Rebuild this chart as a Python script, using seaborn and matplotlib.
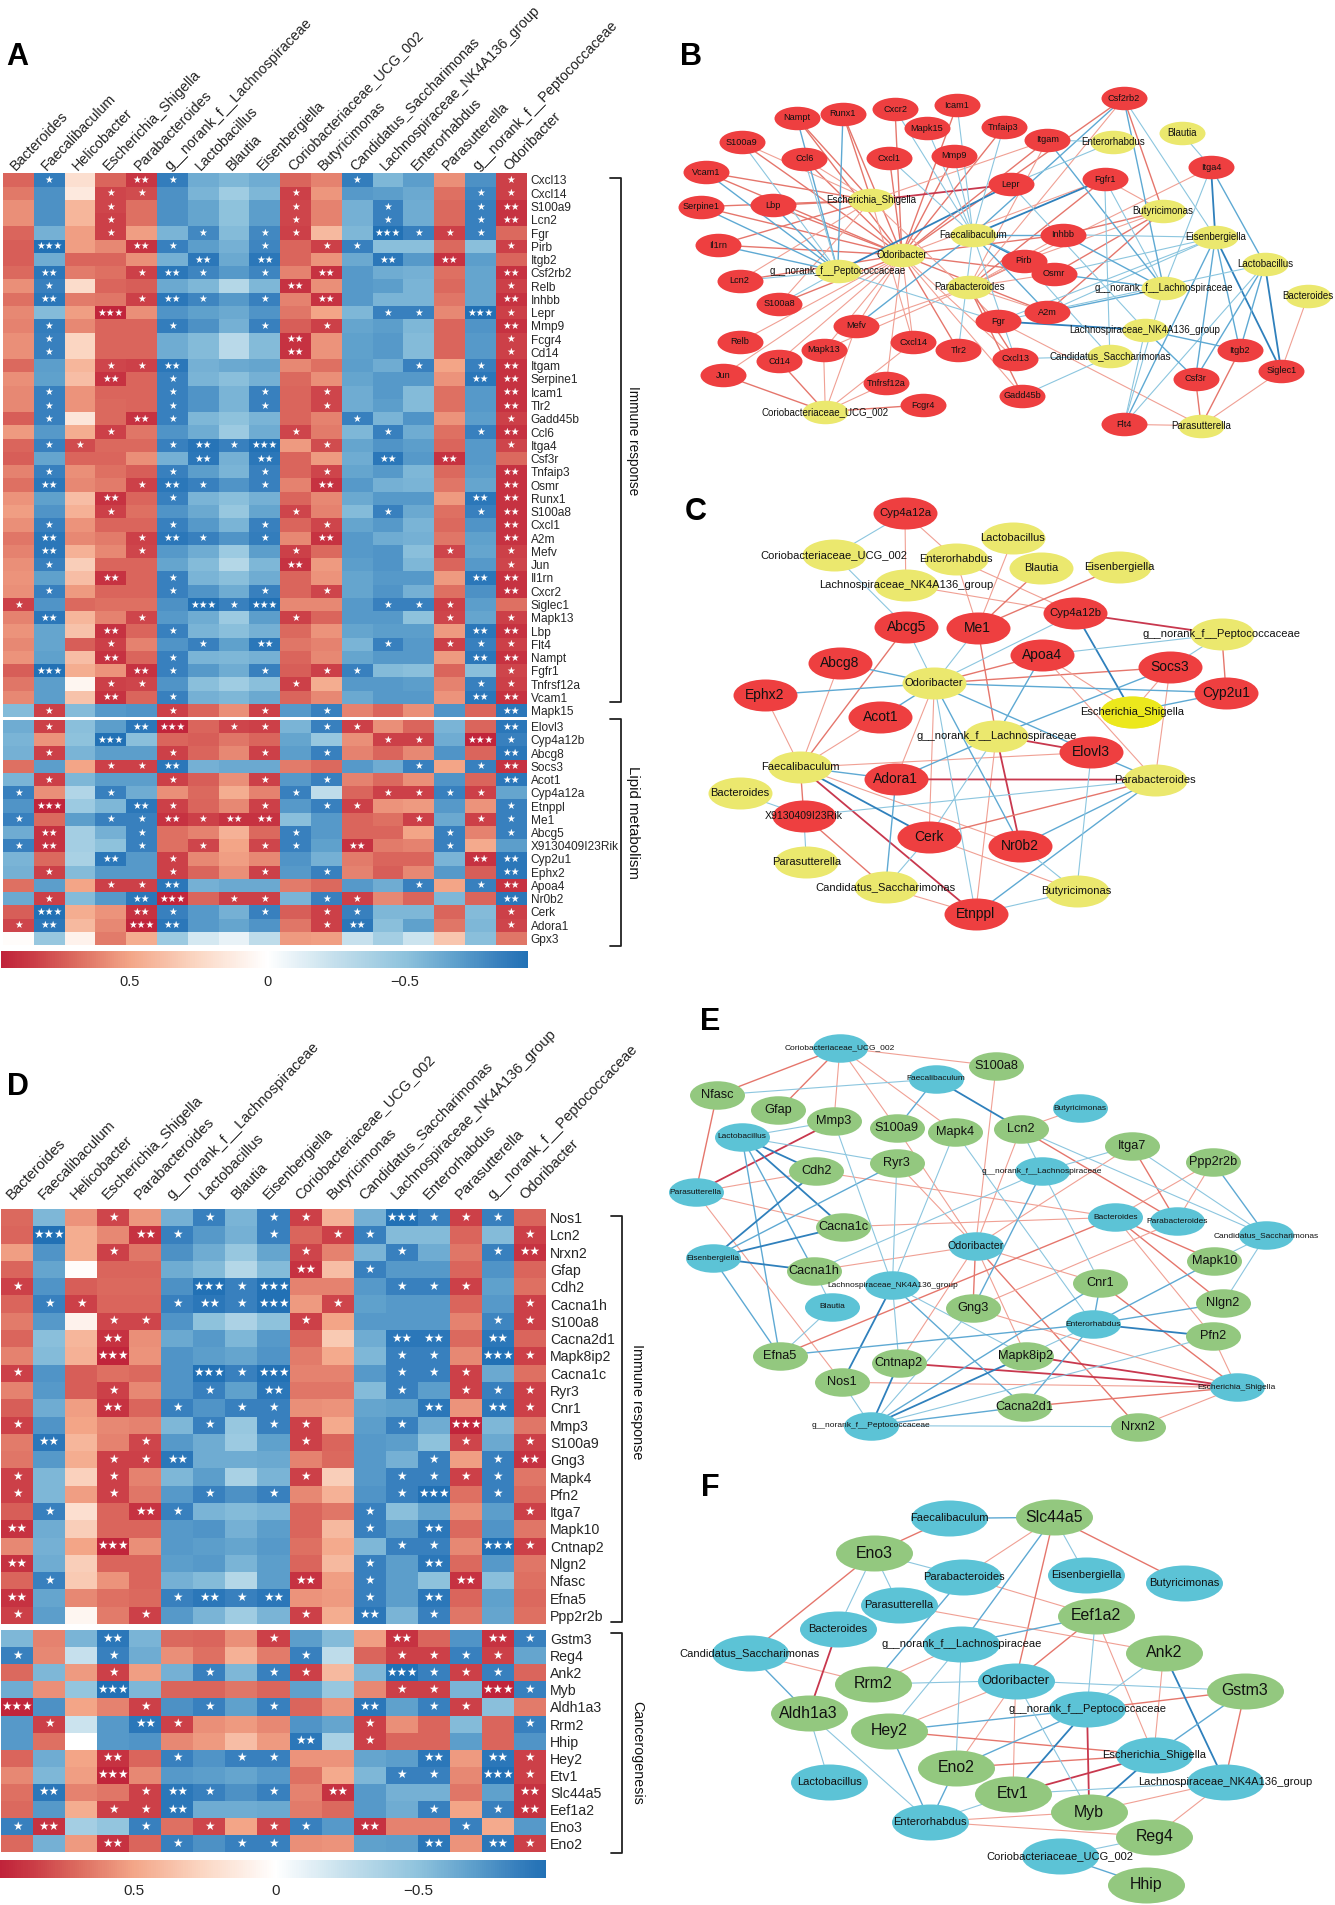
import matplotlib
matplotlib.use("Agg")
import numpy as np
import pandas as pd
import matplotlib.pyplot as plt
import seaborn as sns
from matplotlib.collections import LineCollection
from matplotlib.colors import LinearSegmentedColormap
from matplotlib.path import Path
from matplotlib.transforms import Affine2D, ScaledTranslation

W, H = 1335, 1905

TAXA = ["Bacteroides", "Faecalibaculum", "Helicobacter", "Escherichia_Shigella", "Parabacteroides",
        "g__norank_f__Lachnospiraceae", "Lactobacillus", "Blautia", "Eisenbergiella",
        "Coriobacteriaceae_UCG_002", "Butyricimonas", "Candidatus_Saccharimonas",
        "Lachnospiraceae_NK4A136_group", "Enterorhabdus", "Parasutterella",
        "g__norank_f__Peptococcaceae", "Odoribacter"]
CODES = ["Bac", "Fae", "Hel", "Esc", "Par", "gLa", "Lac", "Bla", "Eis", "Cor", "But", "Can", "LNK", "Ent", "Psu", "gPe", "Odo"]

# panel A, correlation x 100
A1_GENES = ["Cxcl13", "Cxcl14", "S100a9", "Lcn2", "Fgr", "Pirb", "Itgb2", "Csf2rb2", "Relb", "Inhbb", "Lepr", "Mmp9",
            "Fcgr4", "Cd14", "Itgam", "Serpine1", "Icam1", "Tlr2", "Gadd45b", "Ccl6", "Itga4", "Csf3r", "Tnfaip3", "Osmr",
            "Runx1", "S100a8", "Cxcl1", "A2m", "Mefv", "Jun", "Il1rn", "Cxcr2", "Siglec1", "Mapk13", "Lbp", "Flt4",
            "Nampt", "Fgfr1", "Tnfrsf12a", "Vcam1", "Mapk15"]
A1_VALUES = [
    [72,-86,20,72,88,-86,-62,-56,-62,72,62,-86,-56,-70,58,-76,84],
    [65,-76,14,82,80,-76,-58,-42,-56,84,55,-72,-70,-64,68,-82,84],
    [58,-76,42,82,68,-76,-66,-50,-70,82,62,-60,-84,-62,70,-84,90],
    [58,-76,42,84,68,-76,-66,-50,-70,82,62,-60,-84,-62,70,-84,90],
    [72,-60,52,84,52,-58,-80,-54,-80,84,40,-56,-95,-84,84,-84,70],
    [74,-95,52,60,90,-84,-70,-60,-82,72,84,-84,-52,-52,70,-52,84],
    [74,-62,72,72,58,-60,-90,-64,-90,72,56,-64,-90,-72,90,-70,72],
    [70,-90,64,68,84,-90,-82,-72,-82,62,90,-72,-62,-60,68,-66,90],
    [58,-84,22,72,74,-64,-56,-32,-56,90,58,-72,-70,-58,70,-66,84],
    [68,-90,64,66,84,-90,-82,-72,-84,62,90,-72,-58,-58,66,-66,90],
    [60,-54,52,96,58,-74,-68,-64,-74,66,50,-56,-84,-84,60,-96,84],
    [62,-86,60,72,72,-86,-76,-60,-84,74,84,-66,-70,-56,72,-74,90],
    [58,-84,26,72,72,-62,-54,-30,-54,90,56,-68,-72,-54,72,-72,84],
    [58,-84,26,72,72,-62,-54,-30,-54,90,56,-68,-72,-54,72,-72,84],
    [70,-70,42,82,84,-90,-60,-64,-66,60,68,-70,-62,-84,50,-84,90],
    [58,-68,38,90,72,-84,-58,-52,-60,70,58,-66,-72,-72,56,-90,90],
    [60,-84,56,72,72,-84,-74,-58,-84,72,82,-62,-72,-54,68,-72,90],
    [60,-84,56,70,72,-84,-74,-58,-84,72,82,-62,-70,-54,68,-72,90],
    [74,-84,16,70,90,-84,-56,-50,-58,72,62,-84,-58,-74,56,-70,84],
    [54,-72,46,84,66,-74,-62,-44,-62,82,64,-56,-84,-62,68,-84,90],
    [72,-84,80,70,70,-84,-92,-84,-96,54,80,-66,-74,-70,72,-72,82],
    [74,-66,72,72,58,-60,-90,-60,-90,72,54,-62,-90,-72,90,-72,70],
    [62,-84,58,68,74,-84,-70,-58,-84,72,82,-66,-72,-56,70,-70,90],
    [68,-90,60,64,84,-90,-84,-74,-84,62,90,-72,-60,-58,66,-66,90],
    [56,-68,38,90,72,-84,-58,-52,-60,72,60,-64,-72,-72,54,-90,90],
    [52,-74,44,84,68,-74,-64,-46,-66,82,62,-54,-84,-64,68,-84,90],
    [58,-84,56,72,72,-84,-72,-58,-84,72,82,-66,-72,-58,70,-74,90],
    [66,-90,60,64,84,-90,-84,-74,-86,60,90,-72,-62,-60,66,-68,90],
    [62,-90,44,60,82,-72,-62,-44,-70,84,70,-72,-74,-52,82,-66,84],
    [58,-84,30,72,72,-66,-54,-32,-56,90,54,-70,-74,-56,72,-72,82],
    [56,-68,38,90,72,-84,-58,-52,-62,72,56,-66,-72,-72,54,-90,90],
    [58,-84,54,72,72,-84,-74,-62,-84,72,82,-66,-74,-60,68,-76,90],
    [84,-74,70,68,68,-76,-96,-84,-96,60,60,-72,-84,-84,84,-70,68],
    [62,-90,42,62,82,-72,-62,-44,-70,84,72,-72,-72,-50,82,-66,84],
    [56,-66,36,90,72,-84,-58,-52,-60,70,56,-66,-70,-70,54,-90,90],
    [60,-66,74,84,62,-74,-84,-68,-90,66,62,-58,-84,-72,84,-84,84],
    [56,-68,38,90,72,-84,-58,-56,-60,72,60,-66,-72,-72,54,-90,90],
    [74,-96,46,56,90,-84,-72,-62,-84,74,84,-84,-54,-52,72,-52,82],
    [66,-70,6,84,82,-74,-52,-42,-52,84,46,-72,-72,-70,62,-84,84],
    [60,-70,36,90,72,-84,-60,-56,-64,72,60,-64,-72,-72,56,-90,90],
    [-54,84,-54,-72,-74,84,72,58,84,-72,-84,62,72,58,-74,72,-90],
]
A1_STARS = ["01002100000100001", "00011000010000011", "00010000010010012", "00010000010010012", "00010010110031110",
            "03002100101100001", "00000020200020200", "02001210102000002", "01000000020000001", "02001210102000002",
            "00030000000011031", "01000100101000002", "01000000020000001", "01000000020000001", "00011200000001012",
            "00020100000000022", "01000100101000002", "01000100101000002", "01002100000100001", "00010000010010012",
            "01100121301000001", "00000020200020200", "01000100101000002", "02001210102000002", "00020100000000022",
            "00010000010010012", "01000100101000002", "02001210102000002", "02001000010000101", "01000000020000001",
            "00020100000000022", "01000100101000002", "10000031300011100", "02001000010000101", "00020100000000022",
            "00010010200010111", "00020100000000022", "03002100101100001", "00011000010000011", "00020100000000022",
            "01000100101000002"]

A2_GENES = ["Elovl3", "Cyp4a12b", "Abcg8", "Socs3", "Acot1", "Cyp4a12a", "Etnppl", "Me1", "Abcg5", "X9130409I23Rik",
            "Cyp2u1", "Ephx2", "Apoa4", "Nr0b2", "Cerk", "Adora1", "Gpx3"]
A2_VALUES = [
    [-62,84,-52,-70,-90,96,72,82,84,-58,-84,84,58,72,-58,72,-90],
    [-58,56,-50,-96,-52,72,74,66,72,-66,-46,58,84,84,-62,96,-84],
    [-60,84,-58,-70,-70,84,72,60,84,-70,-84,62,72,60,-74,72,-90],
    [68,-70,50,84,84,-90,-60,-64,-64,64,70,-72,-62,-84,50,-84,90],
    [-58,84,-56,-70,-70,84,74,58,84,-72,-84,62,70,58,-74,72,-90],
    [-84,58,-34,-84,-62,58,70,46,62,-84,-28,72,84,84,-84,84,-66],
    [-74,96,-44,-56,-90,84,72,60,84,-72,-84,84,56,54,-72,56,-84],
    [-84,70,-70,-84,-84,90,84,90,90,-52,-72,72,68,84,-64,84,-84],
    [-62,90,-40,-60,-84,68,62,44,70,-84,-72,72,72,50,-84,62,-84],
    [-84,90,-40,-50,-84,68,82,50,82,-84,-68,90,64,62,-84,48,-70],
    [-58,70,-38,-90,-72,84,60,52,60,-74,-60,64,72,72,-58,90,-90],
    [-60,84,-54,-72,-72,84,72,58,84,-72,-84,62,74,60,-72,74,-90],
    [68,-70,50,84,84,-90,-60,-64,-64,64,70,-72,-62,-84,50,-84,90],
    [-64,84,-54,-72,-90,96,72,84,84,-58,-84,84,60,72,-56,72,-90],
    [74,-96,46,56,90,-84,-72,-60,-84,74,84,-84,-56,-56,72,-54,84],
    [82,-90,40,60,96,-90,-72,-66,-74,66,84,-90,-52,-68,66,-56,82],
    [2,-46,8,64,46,-44,-18,-10,-28,54,52,-24,-40,-22,34,-52,66],
]
A2_STARS = ["01002301101100002", "00030000000011031", "01000100101000002", "00011200000001012", "01000100101000002",
            "10010000010011110", "03002100101100001", "10011212200001011", "02001000010000101", "12001010110200100",
            "00020100000000022", "01000100101000002", "00011200000001012", "01002301101100002", "03002100101100001",
            "12003200001200001", "00000000000000000"]

# panel D
D1_GENES = ["Nos1", "Lcn2", "Nrxn2", "Gfap", "Cdh2", "Cacna1h", "S100a8", "Cacna2d1", "Mapk8ip2", "Cacna1c", "Ryr3", "Cnr1",
            "Mmp3", "S100a9", "Gng3", "Mapk4", "Pfn2", "Itga7", "Mapk10", "Cntnap2", "Nlgn2", "Nfasc", "Efna5", "Ppp2r2b"]
D1_VALUES = [
    [70,-56,56,82,55,-60,-84,-58,-84,84,44,-60,-96,-84,84,-84,72],
    [72,-96,46,60,90,-84,-72,-60,-84,72,84,-84,-54,-54,72,-54,84],
    [52,-74,46,84,66,-76,-62,-46,-66,82,62,-58,-84,-62,66,-84,90],
    [72,-66,2,72,72,-62,-54,-32,-54,90,38,-84,-72,-72,72,-74,72],
    [84,-74,74,70,70,-76,-96,-84,-96,62,62,-72,-84,-84,84,-68,68],
    [72,-84,84,72,72,-84,-90,-84,-96,54,82,-68,-72,-72,72,-72,84],
    [64,-72,8,82,82,-74,-50,-36,-50,84,50,-72,-72,-72,62,-82,84],
    [72,-52,42,90,58,-64,-72,-56,-72,72,32,-62,-90,-90,70,-90,72],
    [62,-54,44,96,56,-74,-70,-66,-74,64,48,-56,-84,-84,60,-96,84],
    [84,-74,74,68,70,-74,-96,-84,-96,62,62,-72,-84,-84,84,-64,68],
    [62,-72,74,84,60,-74,-84,-68,-90,66,66,-54,-84,-70,84,-84,84],
    [74,-62,52,90,72,-84,-74,-84,-84,58,56,-66,-68,-90,56,-90,84],
    [84,-74,50,60,62,-56,-84,-46,-84,84,48,-70,-84,-62,96,-56,66],
    [64,-90,42,62,82,-72,-62,-44,-68,84,72,-72,-70,-50,82,-64,84],
    [66,-72,46,84,84,-90,-62,-62,-64,62,70,-72,-60,-84,52,-84,90],
    [84,-56,28,84,62,-56,-70,-38,-58,84,30,-72,-84,-84,84,-84,66],
    [84,-56,52,84,66,-72,-84,-76,-84,60,44,-74,-84,-96,68,-84,70],
    [74,-84,20,72,90,-84,-58,-54,-58,72,66,-84,-52,-66,58,-70,84],
    [90,-62,30,72,72,-72,-74,-60,-70,72,40,-84,-70,-90,70,-74,66],
    [60,-60,50,96,58,-72,-70,-66,-72,68,48,-56,-84,-84,60,-96,84],
    [90,-62,30,72,72,-70,-72,-58,-70,72,40,-84,-70,-90,70,-72,66],
    [72,-84,32,56,72,-60,-54,-32,-70,90,52,-84,-70,-50,90,-52,68],
    [90,-66,60,68,70,-84,-90,-84,-90,56,54,-84,-70,-90,72,-68,70],
    [84,-70,6,64,84,-72,-58,-42,-58,84,46,-90,-58,-84,66,-66,68],
]
D1_STARS = ["00010010110031110", "03002100101100001", "00010000010010012", "00000000020100000", "10000031300011100",
            "01100121301000001", "00011000010000011", "00020000000022020", "00030000000011031", "10000031300011100",
            "00010010200010111", "00020101100002021", "10000010110010300", "02001000010000101", "00011200000001012",
            "10010000010011110", "10010010100013010", "01002100000100001", "20000000000102000", "00030000000011031",
            "20000000000102000", "01000000020100200", "20000121200102000", "10001000010201000"]

D2_GENES = ["Gstm3", "Reg4", "Ank2", "Myb", "Aldh1a3", "Rrm2", "Hhip", "Hey2", "Etv1", "Slc44a5", "Eef1a2", "Eno3", "Eno2"]
D2_VALUES = [
    [-56,62,-58,-90,-58,70,72,58,84,-70,-54,52,90,72,-74,90,-84],
    [-84,60,-24,-84,-62,58,68,44,64,-84,-28,72,84,84,-84,84,-66],
    [70,-56,54,84,52,-60,-84,-56,-84,84,40,-56,-96,-84,84,-84,72],
    [-62,58,-48,-96,-56,72,72,66,72,-68,-46,60,84,84,-58,96,-84],
    [96,-76,50,62,84,-76,-84,-68,-84,72,56,-90,-68,-84,84,-52,64],
    [-72,84,-22,-72,-90,84,58,54,60,-74,-66,84,58,72,-54,72,-84],
    [-72,68,0,-72,-74,60,54,38,54,-90,-38,84,72,72,-70,72,-74],
    [72,-62,50,90,72,-84,-74,-84,-84,56,56,-66,-70,-90,54,-90,84],
    [60,-56,52,96,60,-72,-70,-66,-72,68,48,-56,-84,-84,60,-96,84],
    [68,-90,62,66,84,-90,-84,-76,-84,62,90,-72,-60,-60,66,-68,90],
    [70,-72,46,84,84,-90,-62,-62,-64,64,70,-72,-62,-84,50,-84,90],
    [-84,90,-40,-48,-84,68,82,50,82,-84,-72,90,62,62,-84,48,-72],
    [70,-60,54,90,72,-84,-76,-84,-84,58,56,-68,-70,-90,56,-90,84],
]
D2_STARS = ["00020000100020021", "10010000010011110", "00010010110031110", "00030000000011031", "30001010100201100",
            "01002100000100001", "00000000020100000", "00020101100002021", "00030000000011031", "02001210102000002",
            "00011200000001012", "12001010110200100", "00020101100002021"]

CBAR_TICKS = [0.5, 0, -0.5]
CBAR_LABELS = ["0.5", "0", "\u22120.5"]

# networks, node places
B_GENES = ["Csf2rb2", "Cxcr2", "Icam1", "Nampt", "Runx1", "Mapk15", "Tnfaip3", "S100a9", "Itgam", "Ccl6", "Cxcl1", "Mmp9", "Vcam1",
           "Itga4", "Fgfr1", "Lepr", "Lbp", "Serpine1", "Inhbb", "Il1rn", "Pirb", "Osmr", "Lcn2", "S100a8", "A2m", "Fgr", "Mefv",
           "Relb", "Cxcl14", "Tlr2", "Mapk13", "Itgb2", "Cd14", "Cxcl13", "Siglec1", "Jun", "Csf3r", "Tnfrsf12a", "Gadd45b",
           "Fcgr4", "Flt4"]
B_GENE_X = [1077, 546, 690, 318, 425, 620, 798, 190, 900, 335, 533, 683, 107, 1280, 1033, 815, 262, 95, 936, 135, 845, 915, 185,
            277, 899, 786, 456, 186, 588, 693, 380, 1347, 277, 825, 1443, 147, 1244, 526, 842, 610, 1078]
B_GENE_Y = [205, 238, 225, 264, 252, 295, 292, 337, 330, 386, 385, 378, 427, 412, 447, 463, 526, 530, 614, 645, 692, 731, 752,
            822, 847, 874, 887, 936, 937, 961, 960, 961, 993, 986, 1022, 1035, 1046, 1060, 1097, 1125, 1183]
B_TAXA = ["Bla", "Ent", "Esc", "But", "Fae", "Eis", "Odo", "Lac", "gPe", "Par", "gLa", "Bac", "LNK", "Can", "Cor", "Psu"]
B_TAXA_X = [1212, 1052, 491, 1168, 727, 1290, 562, 1405, 413, 718, 1170, 1505, 1127, 1045, 384, 1257]
B_TAXA_Y = [310, 336, 511, 543, 614, 622, 675, 703, 724, 771, 775, 798, 900, 979, 1145, 1187]
B_POS = {
    "Odo": "S100a9 Lcn2 Csf2rb2 Inhbb Mmp9 Itgam Serpine1 Icam1 Tlr2 Ccl6 Tnfaip3 Osmr Runx1 S100a8 Cxcl1 A2m Il1rn Cxcr2 Lbp Nampt Vcam1 Cxcl13 Cxcl14 Relb Mefv Jun Cd14 Tnfrsf12a Mapk13 Fgfr1 Gadd45b",
    "Esc": "Lepr Lbp Nampt Runx1 Serpine1 Il1rn Vcam1 Ccl6 S100a9 S100a8 Lcn2 Fgr Itgam Cxcl14",
    "Par": "Pirb Gadd45b Fgfr1 Cxcl13 Csf2rb2 Inhbb A2m Osmr Itgam Mefv Mapk13 Itga4",
    "But": "Fgfr1 Csf2rb2 Inhbb Osmr A2m Pirb",
    "Cor": "Jun Cd14 Mapk13 Mefv Tnfrsf12a Cxcl14 Fcgr4",
    "Psu": "Fgr Flt4 Csf3r Itgb2 Siglec1",
    "Bac": "Siglec1",
}
B_NEG = {
    "gPe": "Lepr Serpine1 Il1rn Lbp Nampt Runx1 Vcam1 Ccl6 S100a8 S100a9 Lcn2 Fgr",
    "Fae": "Pirb Fgfr1 Inhbb Csf2rb2 A2m Osmr Mefv Cxcl13 Mmp9 Icam1 Tlr2 Cxcr2 Tnfaip3 Cxcl1 Mapk15",
    "Eis": "Inhbb Osmr A2m Csf2rb2 Itgb2 Fgr Flt4 Csf3r Itga4 Siglec1",
    "gLa": "Inhbb Csf2rb2 Osmr A2m Itgam Itga4 Fgfr1 Flt4",
    "Lac": "Itga4 Csf3r Itgb2 Siglec1 Flt4 Fgr",
    "Ent": "Lepr Itgam",
    "Bla": "Itga4",
    "LNK": "Fgr Itgb2 Csf3r Lepr Flt4",
    "Can": "Cxcl13 Pirb Gadd45b Fgfr1",
}

C_GENES = ["Cyp4a12a", "Abcg5", "Me1", "Cyp4a12b", "Abcg8", "Apoa4", "Socs3", "Ephx2", "Cyp2u1", "Acot1", "Elovl3", "Adora1",
           "X9130409I23Rik", "Cerk", "Nr0b2", "Etnppl"]
C_GENE_X = [569, 572, 738, 965, 417, 888, 1185, 243, 1315, 512, 1002, 548, 334, 625, 837, 733]
C_GENE_Y = [100, 441, 443, 400, 549, 525, 562, 645, 638, 712, 817, 898, 1007, 1070, 1097, 1302]
C_TAXA = ["Cor", "Lac", "Ent", "Bla", "Eis", "LNK", "gPe", "Odo", "Esc", "gLa", "Fae", "Par", "Bac", "Psu", "Can", "But"]
C_TAXA_X = [405, 820, 687, 886, 1066, 571, 1305, 637, 1096, 781, 326, 1150, 186, 340, 524, 968]
C_TAXA_Y = [225, 175, 237, 264, 260, 315, 463, 610, 695, 767, 862, 899, 940, 1145, 1222, 1233]
C_POS = {
    "Ent": "Cyp4a12a Me1 Cyp4a12b",
    "LNK": "Cyp4a12a Cyp4a12b",
    "Fae": "Abcg5 Abcg8 Ephx2 Acot1 Elovl3 X9130409I23Rik Nr0b2 Etnppl",
    "Lac": "Me1",
    "Bla": "Me1",
    "Eis": "Me1",
    "gLa": "Me1 Elovl3 Nr0b2 Etnppl",
    "gPe": "Cyp4a12b Cyp2u1",
    "Odo": "Apoa4 Socs3 Adora1 Cerk",
    "Esc": "Apoa4 Socs3",
    "Par": "Apoa4 Socs3 Adora1 Cerk",
    "Can": "X9130409I23Rik Etnppl",
    "But": "Cerk",
}
C_NEG = {
    "Cor": "Cyp4a12a Abcg5",
    "Odo": "Abcg5 Me1 Cyp4a12b Abcg8 Ephx2 Cyp2u1 Acot1 Elovl3 Nr0b2 Etnppl",
    "Esc": "Cyp4a12b Cyp2u1",
    "gPe": "Apoa4 Socs3",
    "gLa": "Apoa4 Socs3 Adora1 Cerk",
    "Par": "Elovl3 X9130409I23Rik Nr0b2 Etnppl",
    "But": "Elovl3 Nr0b2 Etnppl",
    "Fae": "Adora1 Cerk",
    "Can": "Adora1 Cerk",
    "Bac": "X9130409I23Rik",
    "Psu": "X9130409I23Rik",
}

E_GENES = ["S100a8", "Nfasc", "Gfap", "Mmp3", "S100a9", "Mapk4", "Lcn2", "Itga7", "Ppp2r2b", "Cdh2", "Ryr3", "Cacna1c", "Mapk10",
           "Cacna1h", "Cnr1", "Nlgn2", "Gng3", "Pfn2", "Efna5", "Cntnap2", "Mapk8ip2", "Nos1", "Cacna2d1", "Nrxn2"]
E_GENE_X = [781, 132, 275, 404, 550, 685, 838, 1096, 1284, 363, 550, 425, 1288, 358, 1023, 1308, 727, 1284, 278, 555, 850, 423, 846, 1110]
E_GENE_Y = [198, 285, 331, 364, 385, 395, 387, 437, 485, 514, 490, 680, 782, 812, 850, 910, 925, 1009, 1067, 1089, 1067, 1147, 1220, 1280]
E_TAXA = ["Cor", "Fae", "But", "Lac", "gLa", "Psu", "Bac", "Par", "Can", "Odo", "Eis", "LNK", "Bla", "Ent", "Esc", "gPe"]
E_TAXA_X = [418, 640, 975, 190, 888, 83, 1058, 1200, 1408, 733, 122, 540, 400, 1006, 1340, 490]
E_TAXA_Y = [143, 237, 325, 411, 514, 577, 652, 664, 706, 738, 774, 856, 921, 972, 1162, 1277]
E_POS = {
    "Cor": "Nfasc Gfap Mmp3 S100a9 Mapk4 S100a8",
    "But": "Lcn2",
    "Psu": "Nfasc Mmp3 Cdh2 Cacna1c Nos1",
    "Odo": "S100a8 Lcn2 Itga7 Ryr3 S100a9 Cacna1h Gng3 Cnr1 Mapk8ip2 Cntnap2 Nrxn2",
    "Bac": "Cacna1c Cdh2 Efna5 Ppp2r2b Mapk10 Nlgn2 Pfn2",
    "Par": "Gng3 Lcn2 Itga7 Ppp2r2b",
    "Esc": "Cnr1 Pfn2 Gng3 Cntnap2 Mapk8ip2 Nos1 Cacna2d1 Nrxn2",
}
E_NEG = {
    "Fae": "Nfasc S100a9 Lcn2",
    "Lac": "Mmp3 Ryr3 Cdh2 Cacna1c Cacna1h Efna5",
    "Eis": "Cdh2 Ryr3 Cacna1c Cacna1h Efna5",
    "gLa": "Itga7 Cacna1h Lcn2 Cnr1 Gng3",
    "LNK": "Mmp3 Ryr3 Mapk4 Nos1 Cacna2d1 Mapk8ip2 Cntnap2",
    "Bla": "Efna5 Cacna1h",
    "Can": "Lcn2 Itga7 Ppp2r2b Mapk10 Nlgn2",
    "Ent": "Cnr1 Mapk10 Nlgn2 Pfn2 Efna5 Cacna2d1 Mapk4 Mapk8ip2",
    "gPe": "Nos1 Cntnap2 Gng3 Mapk8ip2 Cacna2d1 Nrxn2 Cnr1 Pfn2",
}

F_GENES = ["Slc44a5", "Eno3", "Eef1a2", "Ank2", "Rrm2", "Gstm3", "Aldh1a3", "Hey2", "Eno2", "Etv1", "Myb", "Reg4", "Hhip"]
F_GENE_X = [915, 497, 1012, 1170, 495, 1359, 345, 533, 687, 820, 997, 1148, 1128]
F_GENE_Y = [172, 279, 468, 578, 672, 692, 760, 813, 923, 1002, 1056, 1130, 1275]
F_TAXA = ["Fae", "Par", "Eis", "But", "Psu", "Bac", "gLa", "Can", "Odo", "gPe", "Lac", "Esc", "LNK", "Ent", "Cor"]
F_TAXA_X = [672, 705, 990, 1218, 555, 413, 700, 208, 826, 992, 393, 1147, 1312, 627, 930]
F_TAXA_Y = [175, 350, 346, 370, 435, 507, 552, 580, 662, 748, 966, 885, 965, 1085, 1188]
F_POS = {
    "Par": "Slc44a5 Eef1a2",
    "But": "Slc44a5",
    "Odo": "Slc44a5 Eef1a2 Hey2 Eno2 Etv1",
    "Fae": "Eno3",
    "Can": "Eno3 Rrm2",
    "Esc": "Eef1a2 Ank2 Hey2 Eno2 Etv1",
    "Psu": "Ank2",
    "gLa": "Rrm2",
    "gPe": "Gstm3 Myb",
    "LNK": "Gstm3 Myb Reg4",
    "Bac": "Aldh1a3",
    "Ent": "Myb Reg4",
}
F_NEG = {
    "Fae": "Slc44a5",
    "Eis": "Slc44a5",
    "gLa": "Slc44a5 Eef1a2 Hey2 Eno2",
    "Par": "Eno3 Rrm2",
    "Psu": "Eno3",
    "Bac": "Eno3",
    "gPe": "Eef1a2 Ank2 Hey2 Eno2 Etv1",
    "LNK": "Ank2 Etv1",
    "Odo": "Rrm2 Gstm3 Myb",
    "Esc": "Gstm3 Myb",
    "Can": "Aldh1a3",
    "Lac": "Aldh1a3",
    "Ent": "Aldh1a3 Hey2 Eno2 Etv1",
    "Cor": "Reg4 Hhip",
}

sns.set_theme(style="white")
plt.rcParams["font.family"] = ["Liberation Sans", "DejaVu Sans"]
plt.rcParams["text.color"] = "#111111"

cmap_stops = [(0.97, "#c0233a"), (0.85, "#cb3e47"), (0.7, "#dc6b5f"), (0.5, "#f3a688"), (0.25, "#fbd8c5"), (0, "#ffffff"),
              (-0.25, "#c4dfec"), (-0.5, "#8fc3dd"), (-0.7, "#5c9ecb"), (-0.85, "#377fbd"), (-0.95, "#2271b5")]
VMIN, VMAX = -0.95, 0.97
cmap = LinearSegmentedColormap.from_list(
    "corr", sorted(((v - VMIN) / (VMAX - VMIN), c) for v, c in cmap_stops))

fig = plt.figure(figsize=(W / 100, H / 100), dpi=100, facecolor="white")


def px_axes(x0, y0, x1, y1, **kw):
    return fig.add_axes([x0 / W, 1 - y1 / H, (x1 - x0) / W, (y1 - y0) / H], **kw)


def draw_heat(rect, genes, values, stars, top, label_pt, star_pt, cax=None, shift=(0, 0)):
    ax = px_axes(*rect)
    df = pd.DataFrame(np.array(values) / 100, index=genes, columns=TAXA)
    marks = np.array([["\u2605" * int(c) for c in row] for row in stars])
    sns.heatmap(df, ax=ax, cmap=cmap, vmin=VMIN, vmax=VMAX, annot=marks, fmt="",
                annot_kws={"color": "white", "size": star_pt},
                cbar=cax is not None, cbar_ax=cax,
                cbar_kws={"orientation": "horizontal", "ticks": CBAR_TICKS} if cax is not None else None,
                xticklabels=True, yticklabels=True)
    ax.yaxis.tick_right()
    ax.tick_params(axis="y", length=0, pad=3, labelsize=label_pt, labelrotation=0)
    ax.set_xlabel("")
    ax.set_ylabel("")
    if top:
        ax.xaxis.tick_top()
        ax.tick_params(axis="x", length=0, pad=2)
        nudge = ScaledTranslation(shift[0] / 100, shift[1] / 100, fig.dpi_scale_trans)
        for lab in ax.get_xticklabels():
            lab.set(rotation=46, ha="left", va="center", rotation_mode="anchor", fontsize=top, color="#222222")
            lab.set_transform(lab.get_transform() + nudge)
    else:
        ax.set_xticks([])
    return ax


def finish_cbar(cax, size):
    cax.invert_xaxis()
    cax.set_xticklabels(CBAR_LABELS)
    cax.tick_params(axis="x", length=0, labelsize=size, pad=5)
    for s in cax.spines.values():
        s.set_visible(False)


cax_a = px_axes(1, 951, 528, 968)
cax_d = px_axes(0, 1860, 546, 1877.5)
draw_heat((3, 173.3, 526.5, 717.3), A1_GENES, A1_VALUES, A1_STARS, 10.3, 8.6, 7, shift=(-5, 2))
draw_heat((3, 720, 526.5, 945), A2_GENES, A2_VALUES, A2_STARS, None, 8.6, 7, cax=cax_a)
draw_heat((1, 1209, 546, 1624), D1_GENES, D1_VALUES, D1_STARS, 10.6, 10.2, 8.5, shift=(-8, 9))
draw_heat((1, 1630, 546, 1852.3), D2_GENES, D2_VALUES, D2_STARS, None, 10.2, 8.5, cax=cax_d)
finish_cbar(cax_a, 10.5)
finish_cbar(cax_d, 10.9)

STARS_AB = dict(zip(A1_GENES + A2_GENES, A1_STARS + A2_STARS))
STARS_D = dict(zip(D1_GENES + D2_GENES, D1_STARS + D2_STARS))
EDGE_RED = {0: "#f0a094", 1: "#f0a094", 2: "#e5766c", 3: "#c8384e"}
EDGE_BLUE = {0: "#8cc6df", 1: "#8cc6df", 2: "#5ea9d3", 3: "#2f80bc"}
EDGE_LW = {0: 0.8, 1: 0.8, 2: 1.0, 3: 1.3}

ELLIPSE = Path.unit_circle()


def draw_net(crop, genes, gx, gy, taxa, tx, ty, pos, neg, star_rows, gene_color, taxon_color, size, gene_pt, taxon_pt, text_pt=None):
    # axes limits follow the crop the places were read from
    x0, y0, cw, ch = crop
    text_pt = text_pt or {}
    ax = px_axes(x0, y0, x0 + cw, y0 + ch)
    ax.set_xlim(0, 1568)
    ax.set_ylim(ch * 3, 0)
    ax.patch.set_alpha(0)
    where = {**dict(zip(genes, zip(gx, gy))), **dict(zip(taxa, zip(tx, ty)))}
    for table, colors in ((pos, EDGE_RED), (neg, EDGE_BLUE)):
        for code, names in table.items():
            col = CODES.index(code)
            segs, cols, lws = [], [], []
            for g in names.split():
                level = int(star_rows[g][col])
                segs.append([where[code], where[g]])
                cols.append(colors[level])
                lws.append(EDGE_LW[level])
            ax.add_collection(LineCollection(segs, colors=cols, linewidths=lws, zorder=1))
    w_px, h_px = size
    marker = Path(ELLIPSE.vertices.copy(), ELLIPSE.codes).transformed(Affine2D().scale(1, h_px / w_px))
    s = (w_px * 0.72) ** 2
    taxon_colors = taxon_color if isinstance(taxon_color, dict) else {}
    base = taxon_color["base"] if taxon_colors else taxon_color
    for xs, ys, color in ((gx, gy, gene_color), (tx, ty, base)):
        sns.scatterplot(x=list(xs), y=list(ys), marker=marker, s=s, color=color, linewidth=0, ax=ax, zorder=2, legend=False)
    for code, c in taxon_colors.items():
        if code != "base":
            sns.scatterplot(x=[where[code][0]], y=[where[code][1]], marker=marker, s=s, color=c, linewidth=0, ax=ax, zorder=2, legend=False)
    ax.set_xlim(0, 1568)
    ax.set_ylim(ch * 3, 0)
    ax.axis("off")
    for g in genes:
        ax.text(*where[g], g, ha="center", va="center", fontsize=text_pt.get(g, gene_pt), zorder=3, color="#111111")
    for c in taxa:
        ax.text(*where[c], TAXA[CODES.index(c)], ha="center", va="center", fontsize=text_pt.get(c, taxon_pt), zorder=3, color="#111111")
    return ax


RED, YELLOW, GREEN, TEAL = "#ee3f40", "#ebe86e", "#93c87f", "#5cc3d6"
draw_net((660, 30, 675, 430), B_GENES, B_GENE_X, B_GENE_Y, B_TAXA, B_TAXA_X, B_TAXA_Y, B_POS, B_NEG, STARS_AB,
         RED, YELLOW, (46, 23.5), 6.6, 7.0)
draw_net((660, 480, 675, 480), C_GENES, C_GENE_X, C_GENE_Y, C_TAXA, C_TAXA_X, C_TAXA_Y, C_POS, C_NEG, STARS_AB,
         RED, {"base": YELLOW, "Esc": "#ece81c"}, (64, 32), 10, 8,
         text_pt={"X9130409I23Rik": 7.6, "Cyp4a12a": 8.2, "Cyp4a12b": 8.2})
draw_net((660, 1000, 675, 460), E_GENES, E_GENE_X, E_GENE_Y, E_TAXA, E_TAXA_X, E_TAXA_Y, E_POS, E_NEG, STARS_D,
         GREEN, TEAL, (55, 28.5), 9.2, 6.0, text_pt={"Odo": 7.7})
draw_net((660, 1460, 675, 445), F_GENES, F_GENE_X, F_GENE_Y, F_TAXA, F_TAXA_X, F_TAXA_Y, F_POS, F_NEG, STARS_D,
         GREEN, TEAL, (77, 36), 11.4, 8, text_pt={"Odo": 9.4})

# overlay for brackets, group names and panel letters, in pixels
over = px_axes(0, 0, W, H)
over.set_xlim(0, W)
over.set_ylim(H, 0)
over.axis("off")
over.patch.set_alpha(0)
BRACKETS = [(610, 621, 178, 702), (610, 621, 719, 946), (611, 622, 1216, 1622), (611, 622, 1633, 1853)]
for x0, x1, y0, y1 in BRACKETS:
    over.plot([x0, x1, x1, x0], [y0, y0, y1, y1], color="#222222", lw=1.3)
GROUP_NAMES = ["Immune response", "Lipid metabolism", "Immune response", "Cancerogenesis"]
GROUP_X = [633, 633, 637, 637]
GROUP_Y = [441, 822, 1402, 1753]
GROUP_PT = [9.8, 10.8, 10.4, 10.3]
for name, x, y, pt in zip(GROUP_NAMES, GROUP_X, GROUP_Y, GROUP_PT):
    over.text(x, y, name, rotation=-90, ha="center", va="center", fontsize=pt)
PANEL_NAMES = ["A", "B", "C", "D", "E", "F"]
PANEL_X = [17, 691, 696, 18, 710, 710]
PANEL_Y = [57, 57, 512, 1087, 1022, 1488]
for name, x, y in zip(PANEL_NAMES, PANEL_X, PANEL_Y):
    over.text(x, y, name, ha="center", va="center", fontsize=22, fontweight="bold", color="black")

fig.savefig("out.png", dpi=100, facecolor="white")
